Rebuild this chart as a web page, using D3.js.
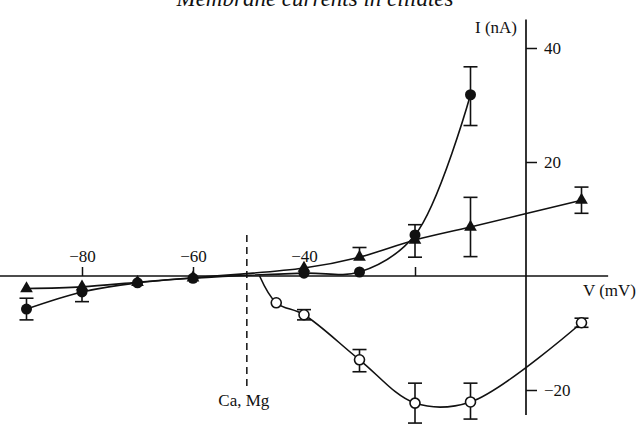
<!DOCTYPE html>
<html>
<head>
<meta charset="utf-8">
<script src="https://cdn.jsdelivr.net/npm/d3@7"></script>
<style>
    body { margin: 0; background: #fff; }
    svg { display: block; }
    text { font-family: "Liberation Serif", "DejaVu Serif", serif; fill: #111; }
    .curve { fill: none; stroke: #111; stroke-width: 1.6px; }
    .err { stroke: #111; stroke-width: 1.6px; }
</style>
</head>
<body>
<div id="chart"></div>
<script>
// filled circles
var caV = [-90, -80, -70, -60, -40, -30, -20, -10];
var caI = [-5.8, -2.8, -1.2, -0.4, 0.5, 0.7, 7.2, 31.8];
var caErrHi = [1.9, 0, 0, 0, 0, 0, 1.8, 4.9];
var caErrLo = [1.9, 1.7, 0, 0, 0, 0, 0, 5.4];

// filled triangles
var triV = [-90, -80, -70, -60, -40, -30, -20, -10, 10];
var triI = [-2.2, -1.9, -1.1, -0.3, 1.4, 3.3, 6.3, 8.6, 13.3];
var triErrHi = [0, 0, 0, 0, 0, 1.7, 0, 5.2, 2.3];
var triErrLo = [0, 0, 0, 0, 0, 0, 3.0, 5.2, 2.3];

// open circles (curve leaves the axis at -48 mV)
var openCurveStart = [-48, 0];
var openV = [-45, -40, -30, -20, -10, 10];
var openI = [-4.7, -6.8, -14.7, -22.3, -22.1, -8.2];
var openErrHi = [0, 0.9, 1.8, 3.5, 3.3, 0.8];
var openErrLo = [0, 0.9, 2.1, 3.5, 3.0, 0.8];

var xTicks = [-80, -60, -40, -20];
var xTickLabels = ["\u221280", "\u221260", "\u221240", ""];
var yTicks = [40, 20, -20];
var yTickLabels = ["40", "20", "\u221220"];

var caMgV = -50.3;
var caMgRange = [7.2, -19.8];
var xAxisExtent = [-95, 14.8];
var yAxisExtent = [45, -24.4];

var WIDTH = 643, HEIGHT = 434;

var x = d3.scaleLinear().domain([-80, 0]).range([82, 526]);
var y = d3.scaleLinear().domain([40, -20]).range([48, 390]);

var svg = d3.select("#chart").append("svg")
    .attr("width", WIDTH)
    .attr("height", HEIGHT);

function zip(vs, is, hi, lo) {
    return vs.map(function (v, i) {
        return { v: v, i: is[i], hi: hi[i], lo: lo[i] };
    });
}

var ca = zip(caV, caI, caErrHi, caErrLo);
var tri = zip(triV, triI, triErrHi, triErrLo);
var open = zip(openV, openI, openErrHi, openErrLo);

// title (cut by the top edge, as in the scan)
svg.append("text")
    .attr("x", 315).attr("y", 6)
    .attr("text-anchor", "middle")
    .style("font-style", "italic")
    .style("font-size", "23px")
    .text("Membrane currents in ciliates");

// x axis
var xAxisG = svg.append("g").attr("transform", "translate(0," + y(0) + ")");
xAxisG.append("line")
    .attr("x1", x(xAxisExtent[0])).attr("x2", x(xAxisExtent[1]))
    .attr("stroke", "#111").attr("stroke-width", 1.7);
xAxisG.call(d3.axisTop(x).tickValues(xTicks).tickSize(9).tickPadding(5)
    .tickFormat(function (d, i) { return xTickLabels[i]; }));
xAxisG.select(".domain").remove();
xAxisG.selectAll(".tick line").attr("stroke", "#111").attr("stroke-width", 1.5);
xAxisG.selectAll(".tick text")
    .style("font-family", "Liberation Serif").style("font-size", "17px").attr("fill", "#111");

// y axis
var yAxisG = svg.append("g").attr("transform", "translate(" + x(0) + ",0)");
yAxisG.append("line")
    .attr("y1", y(yAxisExtent[0])).attr("y2", y(yAxisExtent[1]))
    .attr("stroke", "#111").attr("stroke-width", 1.7);
yAxisG.call(d3.axisRight(y).tickValues(yTicks).tickSize(11).tickPadding(7)
    .tickFormat(function (d, i) { return yTickLabels[i]; }));
yAxisG.select(".domain").remove();
yAxisG.selectAll(".tick line").attr("stroke", "#111").attr("stroke-width", 1.5);
yAxisG.selectAll(".tick text")
    .style("font-family", "Liberation Serif").style("font-size", "17px").attr("fill", "#111");

svg.append("text")
    .attr("x", x(0) - 9).attr("y", 33)
    .attr("text-anchor", "end")
    .style("font-size", "17px")
    .text("I (nA)");

svg.append("text")
    .attr("x", 636).attr("y", 296)
    .attr("text-anchor", "end")
    .style("font-size", "17px")
    .text("V (mV)");

// Ca, Mg marker
svg.append("line")
    .attr("x1", x(caMgV)).attr("x2", x(caMgV))
    .attr("y1", y(caMgRange[0])).attr("y2", y(caMgRange[1]))
    .attr("stroke", "#111").attr("stroke-width", 1.5)
    .attr("stroke-dasharray", "7,5");
svg.append("text")
    .attr("x", x(caMgV) - 3).attr("y", 406)
    .attr("text-anchor", "middle")
    .style("font-size", "17px")
    .text("Ca, Mg");

// curves
var line = d3.line()
    .x(function (d) { return x(d.v); })
    .y(function (d) { return y(d.i); })
    .curve(d3.curveCatmullRom.alpha(0.5));

svg.append("path").attr("class", "curve").attr("d", line(ca));
svg.append("path").attr("class", "curve").attr("d", line(tri));
svg.append("path").attr("class", "curve")
    .attr("d", line([{ v: openCurveStart[0], i: openCurveStart[1] }].concat(open)));

// error bars
function errorBars(data) {
    var g = svg.append("g");
    data.forEach(function (d) {
        [["hi", 1], ["lo", -1]].forEach(function (s) {
            var e = d[s[0]];
            if (!e) return;
            var yEnd = y(d.i + s[1] * e);
            g.append("line").attr("class", "err")
                .attr("x1", x(d.v)).attr("x2", x(d.v))
                .attr("y1", y(d.i)).attr("y2", yEnd);
            g.append("line").attr("class", "err")
                .attr("x1", x(d.v) - 7).attr("x2", x(d.v) + 7)
                .attr("y1", yEnd).attr("y2", yEnd);
        });
    });
}
errorBars(ca);
errorBars(tri);
errorBars(open);

// markers
svg.append("g").selectAll("path")
    .data(tri).enter().append("path")
    .attr("d", d3.symbol().type(d3.symbolTriangle).size(70))
    .attr("transform", function (d) { return "translate(" + x(d.v) + "," + y(d.i) + ")"; })
    .attr("fill", "#111");

svg.append("g").selectAll("circle")
    .data(ca).enter().append("circle")
    .attr("cx", function (d) { return x(d.v); })
    .attr("cy", function (d) { return y(d.i); })
    .attr("r", 5.5)
    .attr("fill", "#111");

svg.append("g").selectAll("circle")
    .data(open).enter().append("circle")
    .attr("cx", function (d) { return x(d.v); })
    .attr("cy", function (d) { return y(d.i); })
    .attr("r", 5)
    .attr("fill", "#fff")
    .attr("stroke", "#111")
    .attr("stroke-width", 1.6);
</script>
</body>
</html>
